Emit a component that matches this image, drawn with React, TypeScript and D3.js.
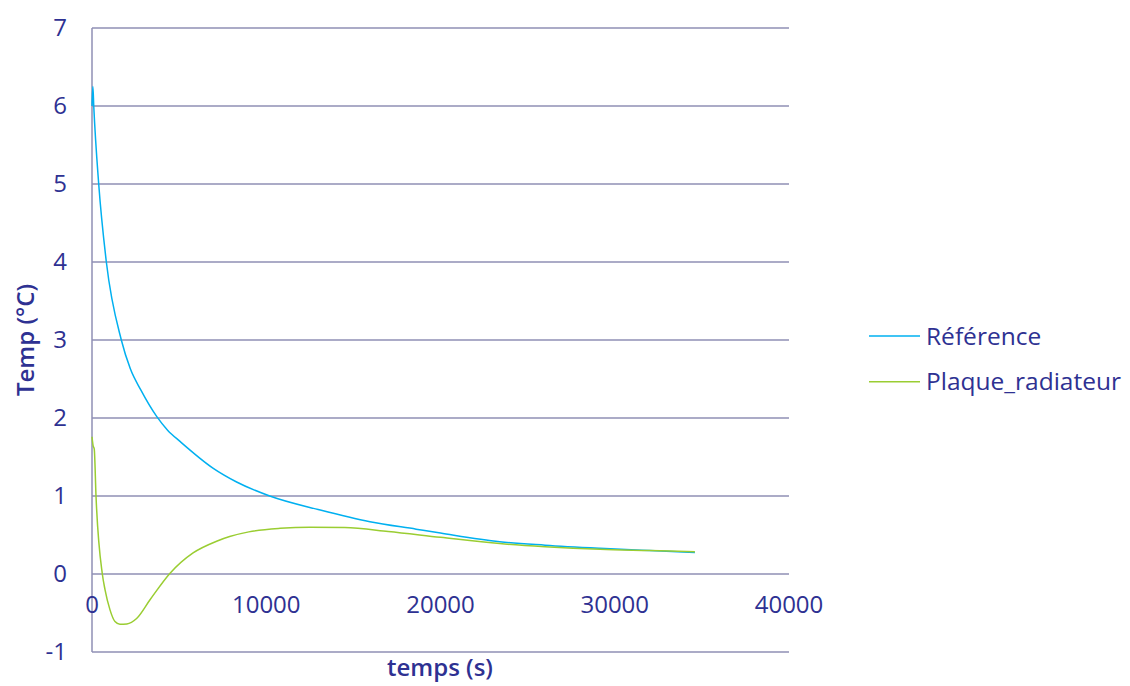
import React from "react";
import * as d3 from "d3";

const refTime = [0, 50, 100, 385, 823, 1683, 2200, 2800, 3710, 4350, 5050, 6960, 8300, 10200, 13100, 15950, 18600, 20000, 23400, 26000, 29150, 32000, 34600];
const refTemp = [6.0, 6.25, 6.0, 5.0, 4.0, 3.0, 2.63, 2.36, 2.02, 1.84, 1.7, 1.355, 1.18, 1.0, 0.82, 0.67, 0.575, 0.525, 0.414, 0.37, 0.33, 0.3, 0.275];

const plaqueTime = [0, 60, 130, 230, 593, 746, 1033, 1320, 1600, 2000, 2560, 3330, 4480, 5800, 7150, 7900, 9000, 10800, 12500, 14500, 17000, 20000, 23400, 26000, 29150, 32000, 34600];
const plaqueTemp = [1.76, 1.65, 1.6, 1.0, 0.0, -0.2, -0.46, -0.61, -0.645, -0.64, -0.57, -0.33, 0.01, 0.27, 0.42, 0.48, 0.54, 0.585, 0.6, 0.595, 0.545, 0.47, 0.39, 0.35, 0.316, 0.3, 0.285];

const xTicks = [0, 10000, 20000, 30000, 40000];
const yTicks = [-1, 0, 1, 2, 3, 4, 5, 6, 7];

const seriesNames = ["Référence", "Plaque_radiateur"];
const seriesColors = ["#00b0f0", "#9acd32"];

export default function App() {
  const W = 1130, H = 686;
  const x = d3.scaleLinear().domain([0, 40000]).range([92, 789]);
  const y = d3.scaleLinear().domain([-1, 7]).range([652, 28]);
  const font = "'Open Sans', 'Noto Sans', sans-serif";
  const textColor = "#2e3192";
  const gridColor = "#8f8fb5";

  const line = d3
    .line<[number, number]>()
    .x((d) => x(d[0]))
    .y((d) => y(d[1]))
    .curve(d3.curveMonotoneX);

  const series = [
    refTime.map((t, i) => [t, refTemp[i]] as [number, number]),
    plaqueTime.map((t, i) => [t, plaqueTemp[i]] as [number, number]),
  ];

  return (
    <svg width={W} height={H} style={{ position: "absolute", left: 0, top: 0, background: "#fff" }} fontFamily={font}>
      {yTicks.map((v) => (
        <g key={v}>
          <line x1={x(0)} x2={x(40000)} y1={y(v)} y2={y(v)} stroke={gridColor} strokeWidth={1.5} />
          <text x={67} y={y(v)} dy="0.35em" textAnchor="end" fontSize={24} fill={textColor}>
            {v}
          </text>
        </g>
      ))}
      <line x1={x(0)} x2={x(0)} y1={y(7)} y2={y(-1)} stroke={gridColor} strokeWidth={1.5} />
      {xTicks.map((v) => (
        <text key={v} x={x(v)} y={y(0) + 31} dy="0.35em" textAnchor="middle" fontSize={24} fill={textColor}>
          {v}
        </text>
      ))}
      {series.map((s, i) => (
        <path key={i} d={line(s) || ""} fill="none" stroke={seriesColors[i]} strokeWidth={1.5} />
      ))}
      <text
        transform={`translate(34,340) rotate(-90)`}
        textAnchor="middle"
        fontSize={24}
        fontWeight={600}
        fill={textColor}
      >
        Temp (°C)
      </text>
      <text x={440} y={676} textAnchor="middle" fontSize={24} fontWeight={600} fill={textColor}>
        temps (s)
      </text>
      {seriesNames.map((n, i) => (
        <g key={n}>
          <line x1={869} x2={920} y1={336 + i * 45.7} y2={336 + i * 45.7} stroke={seriesColors[i]} strokeWidth={1.5} />
          <text x={926} y={336 + i * 45.7} dy="0.35em" fontSize={24.5} fill={textColor}>
            {n}
          </text>
        </g>
      ))}
    </svg>
  );
}
